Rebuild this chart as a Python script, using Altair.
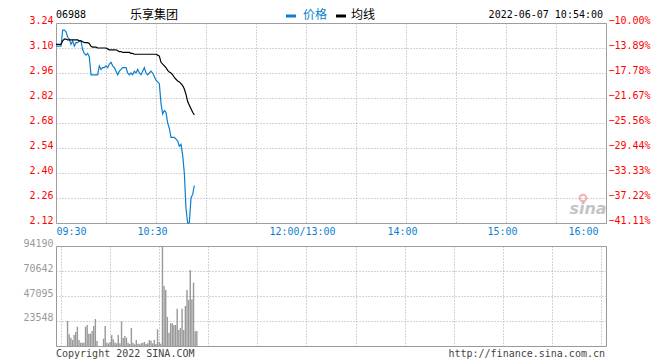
import altair as alt
import pandas as pd

# ---------------- data ----------------
minutes = list(range(84))  # minutes after 09:30

price = [3.11, 3.11, 3.11, 3.11, 3.20, 3.20, 3.19, 3.16, 3.15, 3.12,
         3.14, 3.11, 3.13, 3.13, 3.14, 3.14, 3.09, 3.07, 3.06, 3.07,
         3.05, 2.95, 2.95, 2.95, 2.95, 2.95, 3.00, 2.98, 2.99, 2.99,
         3.00, 2.99, 3.01, 3.02, 3.00, 2.99, 2.97, 2.95, 2.97, 2.98,
         2.99, 2.99, 2.99, 2.96, 2.95, 2.96, 2.95, 2.97, 2.96, 2.98,
         2.96, 2.95, 2.97, 2.99, 2.96, 2.95, 2.96, 2.97, 2.96, 2.94,
         2.92, 2.91, 2.90, 2.79, 2.73, 2.75, 2.74, 2.68, 2.65, 2.60,
         2.60, 2.60, 2.59, 2.58, 2.55, 2.56, 2.50, 2.40, 2.20, 2.12,
         2.12, 2.26, 2.28, 2.33]

avg = [3.12, 3.12, 3.12, 3.12, 3.14, 3.15, 3.15, 3.145, 3.145, 3.145,
       3.145, 3.145, 3.145, 3.145, 3.14, 3.14, 3.135, 3.13, 3.13, 3.13,
       3.125, 3.11, 3.105, 3.105, 3.105, 3.10, 3.10, 3.10, 3.10, 3.10,
       3.10, 3.095, 3.09, 3.09, 3.09, 3.09, 3.09, 3.085, 3.08, 3.08,
       3.075, 3.075, 3.075, 3.075, 3.075, 3.07, 3.07, 3.065, 3.065, 3.065,
       3.065, 3.065, 3.065, 3.065, 3.065, 3.065, 3.065, 3.065, 3.065, 3.065,
       3.065, 3.06, 3.055, 3.02, 3.01, 3.00, 2.99, 2.975, 2.965, 2.96,
       2.95, 2.935, 2.925, 2.915, 2.91, 2.90, 2.89, 2.87, 2.84, 2.80,
       2.78, 2.76, 2.74, 2.725]

volume = [0, 0, 0, 0, 23550, 11000, 7850, 5650, 10360, 13190,
          18200, 5650, 3140, 3140, 3140, 18200, 19800, 11600, 11600, 14100,
          18800, 25400, 4700, 0, 0, 0, 6900, 18800, 3100, 2500,
          3800, 10400, 6300, 3100, 2500, 10400, 2500, 23200, 7500, 9400,
          7850, 3100, 1900, 17000, 3100, 1600, 5650, 2200, 1600, 2500,
          3100, 3800, 1900, 2500, 5650, 5000, 2500, 5650, 1900, 15700,
          3800, 2200, 94190, 56500, 52750, 27300, 12560, 21350, 21350, 19800,
          19800, 35200, 15100, 17000, 35200, 15100, 37700, 52750, 43300, 71600,
          44000, 59700, 13800, 14100]

PREV_CLOSE = 3.6
x_grid = list(range(0, 331, 30))
x_labels = {0: "09:30", 60: "10:30", 150: "12:00/13:00", 210: "14:00",
            270: "15:00", 330: "16:00"}
price_ticks = [3.24, 3.10, 2.96, 2.82, 2.68, 2.54, 2.40, 2.26, 2.12]
vol_ticks = [23548, 47095, 70642, 94190]

code = "06988"
name = "乐享集团"
legend_price = "价格"
legend_avg = "均线"
stamp = "2022-06-07 10:54:00"
copyright_txt = "Copyright 2022 SINA.COM"
url_txt = "http://finance.sina.com.cn"

df = pd.DataFrame({"m": minutes, "price": price, "avg": avg, "vol": volume})
one = pd.DataFrame({"a": [0]})

MONO = "DejaVu Sans Mono"
CJK = "DejaVu Sans Mono, Noto Sans CJK SC"
BLUE = "#0a7fcf"
RED = "#ff0000"
GRID = "#a8a8a8"

label_expr = " : ".join(
    f"datum.value == {k} ? '{v}'" for k, v in x_labels.items()) + " : ''"

xscale = alt.Scale(domain=[0, 330], nice=False, zero=False)
pscale = alt.Scale(domain=[2.12, 3.24], nice=False, zero=False)

x_price = alt.X("m:Q", scale=xscale, axis=alt.Axis(
    values=x_grid, labelExpr=label_expr, grid=True, gridColor=GRID,
    gridDash=[1, 2], ticks=False, domain=False, labelFont=MONO,
    labelFontSize=10, labelColor=BLUE, labelFlush=True, labelOverlap=False,
    labelBound=False, labelPadding=3, labelOffset=-4, labelFlushOffset=-4,
    title=None, minExtent=13, maxExtent=13))

price_line = alt.Chart(df).mark_line(color=BLUE, strokeWidth=1.2).encode(
    x=x_price,
    y=alt.Y("price:Q", scale=pscale, axis=alt.Axis(
        values=price_ticks, format=".2f", grid=True, gridColor=GRID,
        gridDash=[1, 2], ticks=False, domain=False, labelFont=MONO,
        labelFontSize=10, labelColor=RED, labelPadding=3, title=None,
        labelBaseline="alphabetic", minExtent=47, maxExtent=47)))

avg_line = alt.Chart(df).mark_line(color="#000000", strokeWidth=1.2).encode(
    x=alt.X("m:Q", scale=xscale),
    y=alt.Y("avg:Q", scale=pscale, axis=alt.Axis(
        orient="right", values=price_ticks,
        labelExpr=f"format((datum.value/{PREV_CLOSE}-1)*100, '.2f') + '%'",
        grid=False, ticks=False, domain=False, labelFont=MONO,
        labelFontSize=10, labelColor=RED, labelPadding=2, title=None,
        labelBaseline="alphabetic")))

def txt(s, x, y, font=MONO, size=10, color="#000000", align="left", **kw):
    return alt.Chart(one).mark_text(
        font=font, fontSize=size, color=color, align=align,
        baseline="middle", **kw).encode(
        x=alt.value(x), y=alt.value(y), text=alt.value(s))

def dash(x1, x2, y, color):
    return alt.Chart(one).mark_rule(color=color, strokeWidth=3).encode(
        x=alt.value(x1), x2=alt.value(x2), y=alt.value(y))

HY = -8
header = [
    txt(code, 0, HY),
    txt(name, 98, HY, font=CJK, size=12, align="center"),
    dash(230, 240, HY + 1, BLUE),
    txt(legend_price, 247, HY, font=CJK, size=12, color=BLUE),
    dash(280, 290, HY + 1, "#000000"),
    txt(legend_avg, 295, HY, font=CJK, size=12),
    txt(stamp, 547, HY, align="right"),
    txt("sina", 532, 186, font="DejaVu Sans", size=16, color="#c4c4c4",
        align="center", fontStyle="italic", fontWeight="bold"),
    alt.Chart(one).mark_point(shape="circle", color="#f29090", size=45,
                              strokeWidth=2, opacity=0.7).encode(
        x=alt.value(527), y=alt.value(175)),
]

top = alt.layer(price_line, avg_line, *header).resolve_axis(
    y="independent").properties(width=550, height=200)

vol_bars = alt.Chart(df).mark_bar(color="#999999", size=1.4).encode(
    x=alt.X("m:Q", scale=xscale, axis=alt.Axis(
        values=x_grid, labels=False, ticks=False, domain=False, grid=True,
        gridColor=GRID, gridDash=[1, 2], title=None, minExtent=0,
        maxExtent=0)),
    y=alt.Y("vol:Q", scale=alt.Scale(domain=[0, 94190], nice=False),
            axis=alt.Axis(values=vol_ticks, format="d", grid=True,
                          gridColor=GRID, gridDash=[1, 2], ticks=False,
                          domain=False, labelFont=MONO, labelFontSize=10,
                          labelColor="#999999", labelPadding=3, title=None,
                          labelBaseline="alphabetic",
                          minExtent=47, maxExtent=47)))

bottom = alt.layer(
    vol_bars,
    txt(copyright_txt, 0, 108, color="#444444"),
    txt(url_txt, 549, 108, color="#444444", align="right"),
).properties(width=550, height=100)

chart = alt.vconcat(top, bottom, spacing=0).properties(
    padding={"top": 0, "left": 0, "right": 0, "bottom": 0},
    background="#ffffff",
).configure_view(stroke="#999999", strokeWidth=1)

chart.save("out.html", embed_options={"renderer": "svg", "actions": False})
